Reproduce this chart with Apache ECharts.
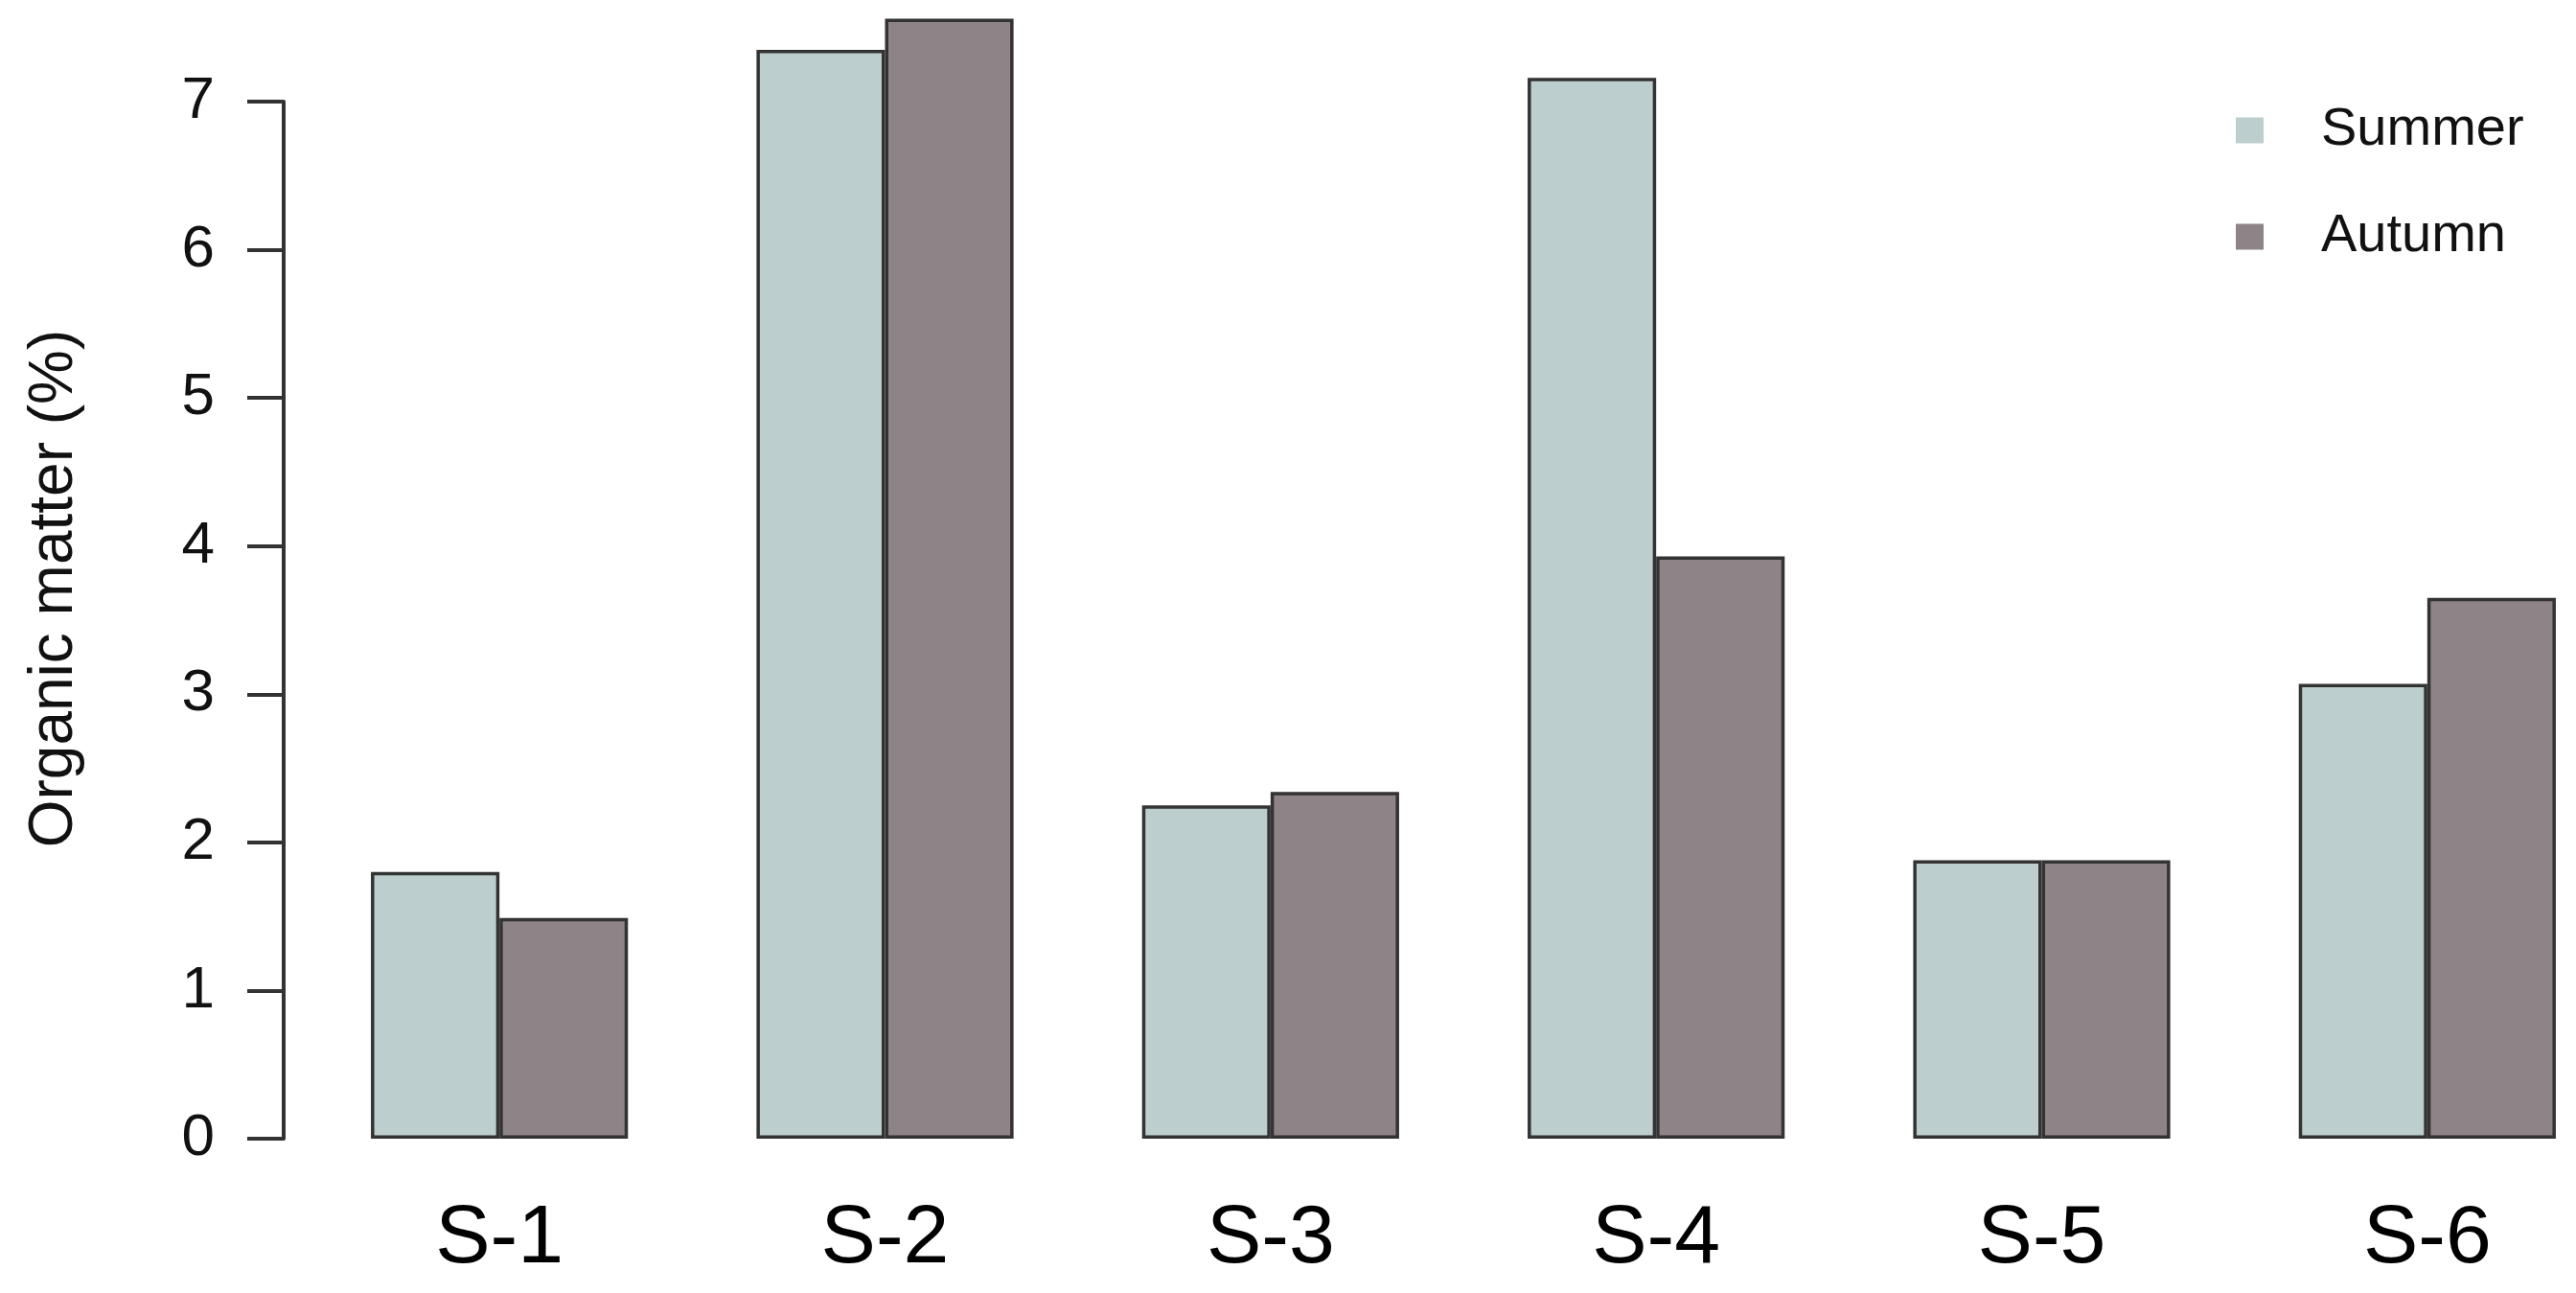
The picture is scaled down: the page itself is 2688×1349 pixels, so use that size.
<!DOCTYPE html>
<html>
<head>
<meta charset="utf-8">
<script src="https://cdn.jsdelivr.net/npm/echarts@6/dist/echarts.min.js"></script>
<style>
html,body{margin:0;padding:0;background:#fff;}
#chart{width:2688px;height:1349px;}
</style>
</head>
<body>
<div id="chart"></div>
<script>
const categories = ['S-1', 'S-2', 'S-3', 'S-4', 'S-5', 'S-6'];
const summerValues = [1.80, 7.35, 2.25, 7.16, 1.88, 3.07];
const autumnValues = [1.49, 7.56, 2.34, 3.93, 1.88, 3.65];
const seriesNames = ['Summer', 'Autumn'];
const yTicks = [0, 1, 2, 3, 4, 5, 6, 7];
const yTitle = 'Organic matter (%)';

const FONT = '"Liberation Sans", Arial, Helvetica, sans-serif';
const chart = echarts.init(document.getElementById('chart'), null, {renderer: 'canvas'});

const barStyle = (color) => ({
  color: color,
  borderColor: '#333333',
  borderWidth: 3.5
});

chart.setOption({
  backgroundColor: '#ffffff',
  animation: false,
  grid: {left: 320, right: -46, top: 106, bottom: 161, containLabel: false, outerBoundsMode: 'none'},
  legend: {
    orient: 'vertical',
    left: 2328,
    top: 103,
    icon: 'rect',
    itemWidth: 29,
    itemHeight: 27,
    itemGap: 55,
    itemStyle: {borderWidth: 0},
    textStyle: {fontFamily: FONT, fontSize: 56, lineHeight: 56, color: '#111', padding: [0, 0, 0, 55]},
    data: seriesNames
  },
  xAxis: {
    type: 'category',
    data: categories,
    axisLine: {show: false},
    axisTick: {show: false},
    axisLabel: {fontFamily: FONT, fontSize: 86, color: '#000', margin: 105, verticalAlign: 'middle'}
  },
  yAxis: {
    type: 'value',
    min: yTicks[0],
    max: yTicks[yTicks.length - 1],
    interval: 1,
    offset: 24,
    splitLine: {show: false},
    axisLine: {show: true, lineStyle: {color: '#333', width: 4}},
    axisTick: {show: true, length: 38, lineStyle: {color: '#333', width: 4}},
    axisLabel: {fontFamily: FONT, fontSize: 62, color: '#111', margin: 72}
  },
  graphic: [{
    type: 'text',
    x: 57,
    y: 614,
    rotation: Math.PI / 2,
    style: {
      text: yTitle,
      fontFamily: FONT,
      fontSize: 64,
      fill: '#111',
      align: 'center',
      verticalAlign: 'middle'
    }
  }],
  series: [
    {
      name: seriesNames[0],
      type: 'bar',
      data: summerValues,
      barGap: '0%',
      barCategoryGap: '33.333%',
      clip: false,
      itemStyle: barStyle('#BCCECD')
    },
    {
      name: seriesNames[1],
      type: 'bar',
      data: autumnValues,
      barGap: '0%',
      barCategoryGap: '33.333%',
      clip: false,
      itemStyle: barStyle('#8E8387')
    }
  ]
});
</script>
</body>
</html>
